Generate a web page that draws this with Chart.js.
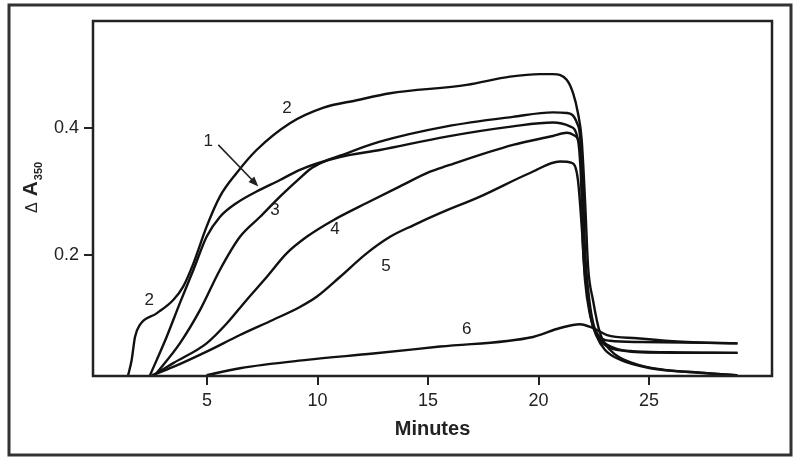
<!DOCTYPE html>
<html>
<head>
<meta charset="utf-8">
<script src="https://cdn.jsdelivr.net/npm/chart.js@4.4.0/dist/chart.umd.min.js"></script>
<style>
  html, body { margin: 0; padding: 0; background: #fff; }
  #wrap { width: 800px; height: 462px; }
</style>
</head>
<body>
<div id="wrap"><canvas id="grafico" width="800" height="462"></canvas></div>
<script>
// tempos (min) e ΔA350 de cada curva
const t1 = [2.42, 3.17, 3.77, 4.38, 4.98, 5.58, 6.34, 7.24, 8.30, 9.20, 11.01, 12.82, 15.84, 18.84, 20.65, 21.42, 21.78, 21.92, 22.01, 22.19, 22.42, 22.78, 23.23, 24.14, 25.95, 29.0];
const a1 = [0.012, 0.072, 0.125, 0.177, 0.229, 0.260, 0.282, 0.300, 0.318, 0.334, 0.354, 0.365, 0.386, 0.402, 0.408, 0.402, 0.381, 0.318, 0.213, 0.146, 0.095, 0.067, 0.055, 0.050, 0.048, 0.047];

const t2 = [1.43, 1.59, 1.74, 1.96, 2.72, 3.47, 3.92, 4.38, 4.98, 5.58, 6.34, 7.24, 8.75, 10.24, 11.77, 13.28, 16.75, 18.71, 20.06, 20.65, 21.27, 21.56, 21.78, 21.95, 22.10, 22.24, 22.46, 22.78, 23.23, 24.27, 25.81, 27.30, 28.96];
const a2 = [0.012, 0.036, 0.072, 0.091, 0.109, 0.130, 0.151, 0.187, 0.245, 0.292, 0.329, 0.365, 0.407, 0.431, 0.443, 0.454, 0.467, 0.480, 0.484, 0.484, 0.475, 0.454, 0.423, 0.381, 0.287, 0.182, 0.130, 0.078, 0.052, 0.031, 0.020, 0.016, 0.012];

const t3 = [2.64, 3.77, 4.68, 5.58, 6.49, 7.39, 8.30, 9.20, 9.66, 10.24, 11.01, 12.82, 15.84, 18.84, 20.65, 21.28, 21.74, 21.92, 22.01, 22.15, 22.37, 22.71, 23.23, 24.59, 29.0];
const a3 = [0.012, 0.062, 0.114, 0.177, 0.229, 0.260, 0.292, 0.321, 0.335, 0.346, 0.356, 0.378, 0.402, 0.417, 0.424, 0.423, 0.407, 0.365, 0.255, 0.161, 0.102, 0.074, 0.066, 0.064, 0.062];

const t4 = [2.57, 3.47, 4.98, 5.89, 6.79, 7.70, 8.60, 9.51, 10.71, 12.22, 13.73, 15.09, 15.84, 18.84, 20.65, 21.28, 21.56, 21.87, 22.01, 22.10, 22.24, 22.46, 22.78, 23.32, 24.59, 29.0];
const a4 = [0.012, 0.031, 0.062, 0.093, 0.130, 0.166, 0.203, 0.229, 0.255, 0.282, 0.308, 0.331, 0.340, 0.373, 0.387, 0.392, 0.389, 0.370, 0.303, 0.208, 0.146, 0.095, 0.070, 0.056, 0.048, 0.047];

const t5 = [2.51, 3.47, 4.98, 6.49, 8.00, 9.20, 9.96, 11.01, 12.22, 13.28, 14.33, 15.54, 17.35, 19.61, 20.97, 21.50, 21.78, 21.96, 22.10, 22.33, 22.60, 23.00, 23.71, 25.06, 27.30, 29.0];
const a5 = [0.012, 0.025, 0.049, 0.075, 0.099, 0.119, 0.135, 0.166, 0.203, 0.229, 0.247, 0.266, 0.292, 0.329, 0.347, 0.345, 0.318, 0.240, 0.161, 0.106, 0.075, 0.052, 0.036, 0.023, 0.016, 0.012];

const t6 = [4.98, 6.49, 9.51, 12.52, 15.54, 19.75, 20.97, 21.87, 22.46, 23.10, 24.45, 26.71, 29.0];
const a6 = [0.012, 0.023, 0.036, 0.046, 0.057, 0.072, 0.086, 0.092, 0.086, 0.075, 0.070, 0.064, 0.062];

const xTicks = [5, 10, 15, 20, 25];
const yTicks = [0.2, 0.4];

// números das curvas escritos no gráfico
const rotulos = ['2', '1', '3', '4', '5', '2', '6'];
const rotuloX = [8.62, 5.05, 8.07, 10.79, 13.1, 2.38, 16.75];
const rotuloY = [0.431, 0.378, 0.271, 0.240, 0.182, 0.130, 0.084];
const setaDe = [5.51, 0.373];
const setaPara = [7.32, 0.308];

const fonte = '"Liberation Sans", Arial, Helvetica, sans-serif';
const tempos = [t1, t2, t3, t4, t5, t6];
const valores = [a1, a2, a3, a4, a5, a6];

const moldura = {
  id: 'moldura',
  beforeDraw(chart) {
    const c = chart.ctx;
    c.save();
    c.fillStyle = '#fff';
    c.fillRect(0, 0, chart.width, chart.height);
    c.strokeStyle = '#333';
    c.lineWidth = 3;
    c.strokeRect(9, 5, 782, 450);
    c.restore();
  },
  afterDatasetsDraw(chart) {
    const c = chart.ctx, a = chart.chartArea;
    const sx = chart.scales.x, sy = chart.scales.y;
    c.save();
    c.strokeStyle = '#222';
    c.lineWidth = 2.5;
    c.strokeRect(a.left, a.top, a.right - a.left, a.bottom - a.top);

    c.fillStyle = '#222';
    c.font = '17px ' + fonte;
    c.textAlign = 'center';
    c.textBaseline = 'middle';
    rotulos.forEach((r, i) => {
      c.fillText(r, sx.getPixelForValue(rotuloX[i]), sy.getPixelForValue(rotuloY[i]));
    });

    // seta apontando a curva 1
    const x1 = sx.getPixelForValue(setaDe[0]), y1 = sy.getPixelForValue(setaDe[1]);
    const x2 = sx.getPixelForValue(setaPara[0]), y2 = sy.getPixelForValue(setaPara[1]);
    const ang = Math.atan2(y2 - y1, x2 - x1);
    c.lineWidth = 1.6;
    c.beginPath();
    c.moveTo(x1, y1);
    c.lineTo(x2 - 6 * Math.cos(ang), y2 - 6 * Math.sin(ang));
    c.stroke();
    c.beginPath();
    c.moveTo(x2, y2);
    c.lineTo(x2 - 10 * Math.cos(ang) + 4 * Math.sin(ang), y2 - 10 * Math.sin(ang) - 4 * Math.cos(ang));
    c.lineTo(x2 - 10 * Math.cos(ang) - 4 * Math.sin(ang), y2 - 10 * Math.sin(ang) + 4 * Math.cos(ang));
    c.closePath();
    c.fill();

    // título do eixo y: Δ A350
    c.translate(37, 213);
    c.rotate(-Math.PI / 2);
    c.textAlign = 'left';
    c.textBaseline = 'alphabetic';
    c.font = '16px ' + fonte;
    c.fillText('Δ', 0, 0);
    let w = c.measureText('Δ').width + 6;
    c.font = 'bold 21px ' + fonte;
    c.fillText('A', w, 0);
    w += c.measureText('A').width + 1;
    c.font = 'bold 11px ' + fonte;
    c.fillText('350', w, 5);
    c.restore();
  }
};

new Chart(document.getElementById('grafico').getContext('2d'), {
  type: 'line',
  data: {
    datasets: tempos.map((t, k) => ({
      label: 'Curva ' + (k + 1),
      data: t.map((v, i) => ({ x: v, y: valores[k][i] })),
      borderColor: '#111',
      borderWidth: 2.4,
      pointRadius: 0,
      fill: false,
      cubicInterpolationMode: 'monotone'
    }))
  },
  options: {
    responsive: false,
    animation: false,
    layout: { padding: { left: 0, top: 21, right: 28, bottom: 0 } },
    plugins: { legend: { display: false }, tooltip: { enabled: false } },
    scales: {
      x: {
        type: 'linear',
        min: -0.16,
        max: 30.56,
        afterFit: s => { s.height = 86; },
        afterBuildTicks: s => { s.ticks = xTicks.map(v => ({ value: v })); },
        grid: { drawOnChartArea: false, drawTicks: true, tickLength: 9, color: '#222', lineWidth: 2 },
        border: { display: false },
        ticks: { font: { family: fonte, size: 18 }, color: '#222', padding: 5, maxRotation: 0, autoSkip: false },
        title: { display: true, text: 'Minutes', color: '#222', font: { family: fonte, size: 20, weight: 'bold' }, padding: { top: 0, bottom: 21 } }
      },
      y: {
        type: 'linear',
        min: 0.0108,
        max: 0.5672,
        afterFit: s => { s.width = 93; },
        afterBuildTicks: s => { s.ticks = yTicks.map(v => ({ value: v })); },
        grid: { drawOnChartArea: false, drawTicks: true, tickLength: 9, color: '#222', lineWidth: 2 },
        border: { display: false },
        ticks: { font: { family: fonte, size: 18 }, color: '#222', padding: 5 }
      }
    }
  },
  plugins: [moldura]
});
</script>
</body>
</html>
